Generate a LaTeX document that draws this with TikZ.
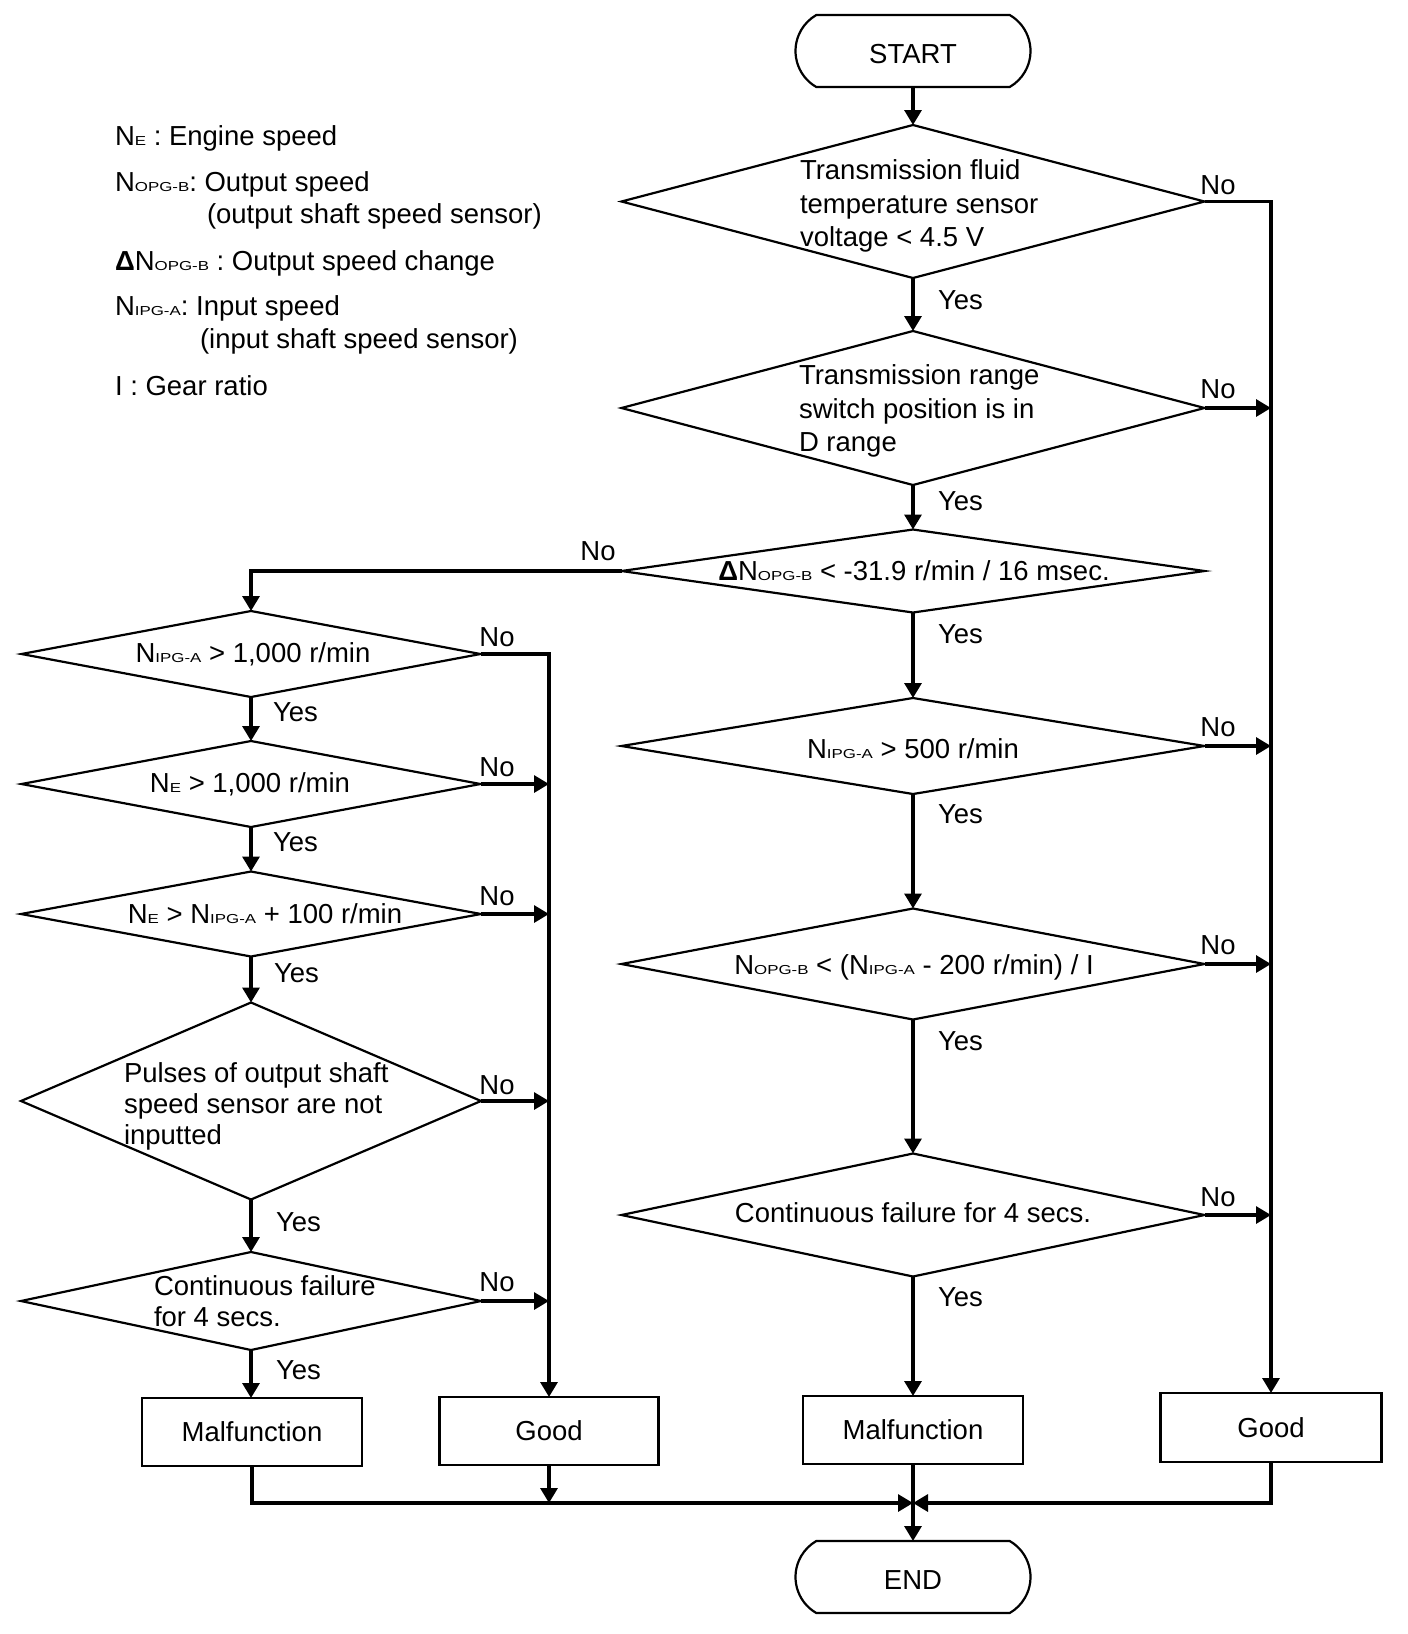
\documentclass[tikz,border=0pt]{standalone}
\usepackage{fontspec}
\setmainfont{Liberation Sans}
\newfontfamily\subfont{Liberation Sans}[FakeStretch=1.3]
\usetikzlibrary{shapes.geometric,shapes.misc,arrows.meta}
\newcommand\sbs[1]{{\subfont\fontsize{13}{13}\selectfont #1}}
\begin{document}
\begin{tikzpicture}[x=1pt,y=-1pt,
  every node/.style={font={\fontsize{27.5}{33.5}\selectfont}, inner sep=0pt, outer sep=0pt},
  dec/.style 2 args={diamond, draw, line width=2.2pt, minimum width=#1 pt, minimum height=#2 pt},
  term/.style={rounded rectangle, rounded rectangle arc length=120, draw, line width=2.2pt, minimum width=235pt, minimum height=72pt},
  res/.style={rectangle, draw, line width=2.3pt, minimum width=220pt, minimum height=68pt},
  conn/.style={line width=3.2pt, -{Triangle[length=15pt,width=17pt]}},
  lbl/.style={anchor=center},
  txt/.style={align=left, anchor=west},
  leg/.style={anchor=base west}]
\useasboundingbox (0,0) rectangle (1408,1634);

% legend
\node[leg] (l1) at (115,145) {N\sbs{E} : Engine speed};
\node[leg] (l2) at (115,191) {N\sbs{OPG-B}: Output speed};
\node[leg] (l3) at (207,223) {(output shaft speed sensor)};
\node[leg] (l4) at (115,270) {{\bfseries Δ}N\sbs{OPG-B} : Output speed change};
\node[leg] (l5) at (115,315) {N\sbs{IPG-A}: Input speed};
\node[leg] (l6) at (200,348) {(input shaft speed sensor)};
\node[leg] (l7) at (115,395) {I : Gear ratio};

% right column
\node[term] (start) at (913,51) {\raisebox{-3pt}[\height][0pt]{START}};
\node[dec={583}{153}] (d1) at (913,201.5) {};
\node[txt] (t1) at (800,206) {Transmission fluid\\temperature sensor\\voltage < 4.5 V};
\node[dec={583}{154}] (d2) at (913,408) {};
\node[txt] (t2) at (799,411) {Transmission range\\switch position is in\\D range};
\node[dec={583}{83}] (d3) at (913,571) {};
\node (t3) at (914,571) {{\bfseries Δ}N\sbs{OPG-B} < -31.9 r/min / 16 msec.};
\node[dec={583}{96}] (d9) at (913,746) {};
\node (t9) at (913,749) {N\sbs{IPG-A} > 500 r/min};
\node[dec={583}{111}] (d10) at (913,964) {};
\node (t10) at (914,967) {N\sbs{OPG-B} < (N\sbs{IPG-A} - 200 r/min) / I};
\node[dec={583}{123}] (d11) at (913,1215) {};
\node (t11) at (913,1213) {Continuous failure for 4 secs.};
\node[res] (malR) at (913,1430) {Malfunction};
\node[res, minimum width=221pt, minimum height=69pt] (goodR) at (1271,1427.5) {Good};
\node[term] (end) at (913,1577) {\raisebox{-3pt}[\height][0pt]{END}};

% left column
\node[dec={459}{86}] (d4) at (251,654) {};
\node (t4) at (253,654) {N\sbs{IPG-A} > 1,000 r/min};
\node[dec={459}{86}] (d5) at (251,784) {};
\node (t5) at (250,784) {N\sbs{E} > 1,000 r/min};
\node[dec={460}{85}] (d6) at (251,914) {};
\node (t6) at (265,914) {N\sbs{E} > N\sbs{IPG-A} + 100 r/min};
\node[dec={460}{197}] (d7) at (251,1101) {};
\node[txt, font={\fontsize{27.5}{31}\selectfont}] (t7) at (124,1106) {Pulses of output shaft\\speed sensor are not\\inputted};
\node[dec={460}{98}] (d8) at (251,1301) {};
\node[txt, font={\fontsize{27.5}{31}\selectfont}] (t8) at (154,1301) {Continuous failure\\for 4 secs.};
\node[res] (malL) at (252,1432) {Malfunction};
\node[res, minimum width=219pt] (goodL) at (549,1431) {Good};

\coordinate (m) at (913,1503);

% yes connectors
\draw[conn] (start.south) -- (d1.north);
\draw[conn] (d1.south) -- (d2.north);
\draw[conn] (d2.south) -- (d3.north);
\draw[conn] (d3.south) -- (d9.north);
\draw[conn] (d9.south) -- (d10.north);
\draw[conn] (d10.south) -- (d11.north);
\draw[conn] (d11.south) -- (malR.north);
\draw[conn] (malR.south) -- (end.north);
\draw[conn] (d4.south) -- (d5.north);
\draw[conn] (d5.south) -- (d6.north);
\draw[conn] (d6.south) -- (d7.north);
\draw[conn] (d7.south) -- (d8.north);
\draw[conn] (d8.south) -- (d8.south |- malL.north);

% no connectors, right rail
\draw[conn] (d1.east) -| (goodR.north);
\draw[conn] (d2.east) -- (d2.east -| goodR.north);
\draw[conn] (d9.east) -- (d9.east -| goodR.north);
\draw[conn] (d10.east) -- (d10.east -| goodR.north);
\draw[conn] (d11.east) -- (d11.east -| goodR.north);
% no connectors, left rail
\draw[conn] (d3.west) -| (d4.north);
\draw[conn] (d4.east) -| (goodL.north);
\draw[conn] (d5.east) -- (d5.east -| goodL.north);
\draw[conn] (d6.east) -- (d6.east -| goodL.north);
\draw[conn] (d7.east) -- (d7.east -| goodL.north);
\draw[conn] (d8.east) -- (d8.east -| goodL.north);

% bottom merge
\draw[conn] (malL.south) |- (m);
\draw[conn] (goodR.south) |- (m);
\draw[conn] (goodL.south) -- (goodL.south |- m);

% labels
\node[anchor=west] (y1) at (938,300) {Yes};
\node[anchor=west] (y2) at (938,501) {Yes};
\node[anchor=west] (y3) at (938,634) {Yes};
\node[anchor=west] (y4) at (938,814) {Yes};
\node[anchor=west] (y5) at (938,1041) {Yes};
\node[anchor=west] (y6) at (938,1297) {Yes};
\node[lbl] (n1) at (1218,185) {No};
\node[lbl] (n2) at (1218,389) {No};
\node[lbl] (n3) at (598,551) {No};
\node[lbl] (n4) at (1218,727) {No};
\node[lbl] (n5) at (1218,945) {No};
\node[lbl] (n6) at (1218,1197) {No};
\node[anchor=west] (y7) at (273,712) {Yes};
\node[anchor=west] (y8) at (273,842) {Yes};
\node[anchor=west] (y9) at (274,973) {Yes};
\node[anchor=west] (y10) at (276,1222) {Yes};
\node[anchor=west] (y11) at (276,1370) {Yes};
\node[lbl] (n7) at (497,637) {No};
\node[lbl] (n8) at (497,767) {No};
\node[lbl] (n9) at (497,896) {No};
\node[lbl] (n10) at (497,1085) {No};
\node[lbl] (n11) at (497,1282) {No};
\end{tikzpicture}
\end{document}
